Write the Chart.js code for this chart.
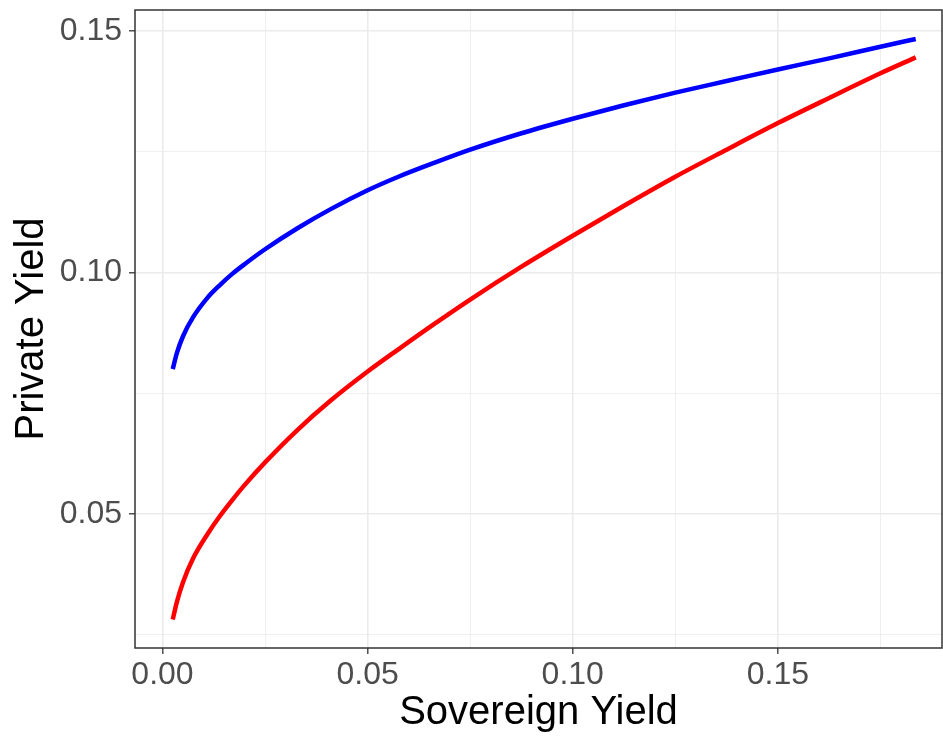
<!DOCTYPE html>
<html>
<head>
<meta charset="utf-8">
<title>Private vs Sovereign Yield</title>
<script src="https://cdn.jsdelivr.net/npm/chart.js@4.4.1/dist/chart.umd.min.js"></script>
<style>
    html, body { margin: 0; padding: 0; background: #ffffff; }
    #wrap { width: 943px; height: 738px; }
</style>
</head>
<body>
<div id="wrap"><canvas id="yieldChart" width="943" height="738"></canvas></div>
<script>
// 데이터
const sovereignYield = [0.0025, 0.0035, 0.005, 0.0075, 0.011, 0.014, 0.017, 0.020, 0.025, 0.033,
    0.041, 0.05, 0.0575, 0.066, 0.075, 0.0875, 0.10, 0.1125, 0.125, 0.1375, 0.15, 0.1625, 0.175, 0.1836];
const privateYieldUpper = [0.0800, 0.0833, 0.0868, 0.0908, 0.0948, 0.0974, 0.0997, 0.1017, 0.1048, 0.1092,
    0.1131, 0.1170, 0.1198, 0.1226, 0.1254, 0.1288, 0.1318, 0.1346, 0.1372, 0.1396, 0.1420, 0.1443, 0.1467, 0.1483];
const privateYieldLower = [0.0282, 0.0318, 0.0359, 0.0409, 0.0459, 0.0496, 0.0529, 0.0560, 0.0607, 0.0675,
    0.0735, 0.0795, 0.0841, 0.0892, 0.0944, 0.1012, 0.1076, 0.1138, 0.1198, 0.1254, 0.1309, 0.1361, 0.1412, 0.1445];

// 눈금 (0.05 간격은 주 눈금, 사이 값은 보조 격자)
const xTicks = [0, 0.025, 0.05, 0.075, 0.10, 0.125, 0.15, 0.175];
const yTicks = [0.025, 0.05, 0.075, 0.10, 0.125, 0.15];

const isMajor = v => Math.abs(v / 0.05 - Math.round(v / 0.05)) < 1e-6;
const toPoints = ys => sovereignYield.map((x, i) => ({ x: x, y: ys[i] }));

const FONT = "'Liberation Sans', Arial, sans-serif";

// 패널 테두리
const panelBorder = {
    id: 'panelBorder',
    afterDraw(chart) {
        const { ctx, chartArea: a } = chart;
        ctx.save();
        ctx.strokeStyle = '#333333';
        ctx.lineWidth = 1.5;
        ctx.strokeRect(a.left, a.top, a.right - a.left, a.bottom - a.top);
        ctx.restore();
    }
};

const gridStyle = {
    color: '#EBEBEB',
    lineWidth: ctx => (ctx.tick && isMajor(ctx.tick.value)) ? 1.6 : 0.8,
    tickColor: ctx => (ctx.tick && isMajor(ctx.tick.value)) ? '#333333' : 'rgba(0,0,0,0)',
    tickWidth: 1.3,
    tickLength: 6
};

new Chart(document.getElementById('yieldChart'), {
    type: 'line',
    data: {
        datasets: [
            {
                label: 'Upper',
                data: toPoints(privateYieldUpper),
                borderColor: '#0000FF',
                borderWidth: 4.5,
                pointRadius: 0,
                cubicInterpolationMode: 'monotone',
                fill: false
            },
            {
                label: 'Lower',
                data: toPoints(privateYieldLower),
                borderColor: '#FF0000',
                borderWidth: 4.5,
                pointRadius: 0,
                cubicInterpolationMode: 'monotone',
                fill: false
            }
        ]
    },
    options: {
        responsive: false,
        animation: false,
        layout: { padding: { top: 10, right: 1, left: 0, bottom: 0 } },
        plugins: {
            legend: { display: false },
            tooltip: { enabled: false }
        },
        scales: {
            x: {
                type: 'linear',
                min: -0.0067,
                max: 0.190,
                afterBuildTicks: scale => { scale.ticks = xTicks.map(v => ({ value: v })); },
                afterFit: scale => {
                    scale.height = 90;
                    scale.paddingLeft = 0;
                    scale.paddingRight = 0;
                },
                grid: gridStyle,
                border: { display: false },
                ticks: {
                    padding: 2,
                    color: '#4D4D4D',
                    font: { family: FONT, size: 32 },
                    maxRotation: 0,
                    callback: v => isMajor(v) ? v.toFixed(2) : ''
                },
                title: {
                    display: true,
                    text: 'Sovereign Yield',
                    color: '#000000',
                    font: { family: FONT, size: 40 },
                    padding: { top: 0, bottom: 1 }
                }
            },
            y: {
                type: 'linear',
                min: 0.0223,
                max: 0.1543,
                afterBuildTicks: scale => { scale.ticks = yTicks.map(v => ({ value: v })); },
                afterFit: scale => {
                    scale.width = 135;
                    scale.paddingTop = 0;
                    scale.paddingBottom = 0;
                },
                grid: gridStyle,
                border: { display: false },
                ticks: {
                    padding: 7,
                    color: '#4D4D4D',
                    font: { family: FONT, size: 32 },
                    callback: v => isMajor(v) ? v.toFixed(2) : ''
                },
                title: {
                    display: true,
                    text: 'Private Yield',
                    color: '#000000',
                    font: { family: FONT, size: 40 },
                    padding: { top: 8, bottom: 0 }
                }
            }
        }
    },
    plugins: [panelBorder]
});
</script>
</body>
</html>
